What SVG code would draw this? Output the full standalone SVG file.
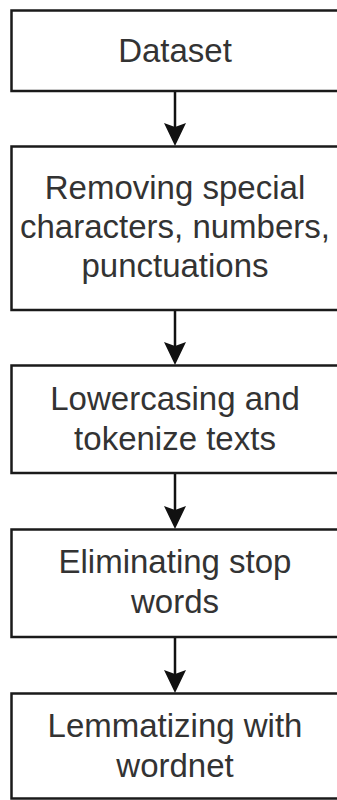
<svg xmlns="http://www.w3.org/2000/svg" width="337" height="800" viewBox="0 0 337 800">
<style>
.box{fill:#fff;stroke:#1a1a1a;stroke-width:2.5}
.t{font-family:"Liberation Sans",Arial,sans-serif;font-size:33px;fill:#333;text-anchor:middle}
.c{stroke:#111;stroke-width:2.5;fill:none}
.ah{fill:#111}
</style>
<rect width="337" height="800" fill="#fff"/>
<g id="connectors">
<line class="c" x1="175" y1="91" x2="175" y2="130"/>
<path class="ah" d="M164,123 L175,127 L186,123 L175,146 Z"/>
<line class="c" x1="175" y1="310" x2="175" y2="349"/>
<path class="ah" d="M164,342 L175,346 L186,342 L175,365 Z"/>
<line class="c" x1="175" y1="473" x2="175" y2="513"/>
<path class="ah" d="M164,506 L175,510 L186,506 L175,529 Z"/>
<line class="c" x1="175" y1="637" x2="175" y2="677"/>
<path class="ah" d="M164,670 L175,674 L186,670 L175,693 Z"/>
</g>
<g id="n1">
<rect class="box" x="11.5" y="10.5" width="328" height="80.5"/>
<text class="t" x="175" y="62">Dataset</text>
</g>
<g id="n2">
<rect class="box" x="11.5" y="146.5" width="328" height="163.5"/>
<text class="t" x="175" y="199">Removing special</text>
<text class="t" x="175" y="238">characters, numbers,</text>
<text class="t" x="175" y="277">punctuations</text>
</g>
<g id="n3">
<rect class="box" x="11.5" y="365.5" width="328" height="107.5"/>
<text class="t" x="175" y="410">Lowercasing and</text>
<text class="t" x="175" y="450">tokenize texts</text>
</g>
<g id="n4">
<rect class="box" x="11.5" y="529.5" width="328" height="107.5"/>
<text class="t" x="175" y="573">Eliminating stop</text>
<text class="t" x="175" y="613">words</text>
</g>
<g id="n5">
<rect class="box" x="11.5" y="693.5" width="328" height="105"/>
<text class="t" x="175" y="737">Lemmatizing with</text>
<text class="t" x="175" y="777">wordnet</text>
</g>
</svg>
